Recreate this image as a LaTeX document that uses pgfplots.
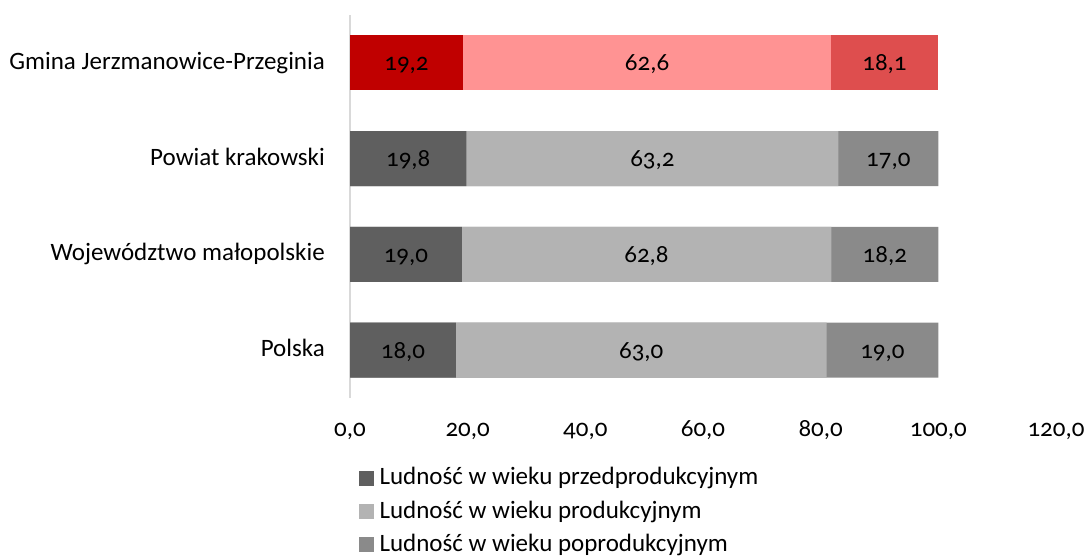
\documentclass[border=0pt]{standalone}
\usepackage{pgfplots}
\pgfplotsset{compat=1.18}
\usepackage{pgfplotstable}
\usepackage{fontspec}
\setmainfont[Numbers=OldStyle]{Carlito}
\definecolor{redA}{HTML}{C00000}
\definecolor{redB}{HTML}{FF9393}
\definecolor{redC}{HTML}{DE4E4E}
\definecolor{grayA}{HTML}{5F5F5F}
\definecolor{grayB}{HTML}{B3B3B3}
\definecolor{grayC}{HTML}{8A8A8A}
\definecolor{axgray}{HTML}{D9D9D9}

\pgfplotstableread{
pos a b c
0 18.0 63.0 19.0
1 19.0 62.8 18.2
2 19.8 63.2 17.0
}\graydata
\pgfplotstableread{
pos a b c
3 19.2 62.6 18.1
}\reddata

\begin{document}
\fontsize{25bp}{30bp}\selectfont
\begin{tikzpicture}
\begin{axis}[
  at={(350bp,-398bp)}, anchor=south west,
  scale only axis, width=706bp, height=383bp,
  xmin=0, xmax=120, ymin=-0.5, ymax=3.5,
  axis x line*=bottom, axis y line*=left,
  axis line style={-},
  x axis line style={draw=none},
  y axis line style={draw=axgray, line width=1.2bp},
  major tick length=0pt,
  xtick={0,20,...,120},
  ytick={0,1,2,3},
  yticklabels={Polska, Województwo małopolskie, Powiat krakowski, Gmina Jerzmanowice-Przeginia},
  yticklabel style={anchor=base east, xshift=-25bp, yshift=-6.5bp},
  xticklabel style={anchor=base, yshift=-38bp},
  tick label style={font=\fontsize{25bp}{30bp}\selectfont, inner sep=0pt},
  /pgf/number format/.cd, fixed, fixed zerofill, precision=1, use comma, 1000 sep={}, assume math mode=true,
  /pgfplots/.cd,
  clip=false,
  legend cell align=left,
  legend style={at={(0.0127,-0.176)}, anchor=north west, draw=none, fill=none,
    font=\fontsize{25bp}{30bp}\selectfont, row sep=8bp, inner sep=0pt},
]
% gray bars: drawn as overlapping bars from 0, longest first
\addplot[xbar, bar width=55bp, bar shift=0pt, fill=grayC, draw=none, forget plot]
  table[x expr=\thisrow{a}+\thisrow{b}+\thisrow{c}, y=pos] {\graydata};
\addplot[xbar, bar width=55bp, bar shift=0pt, fill=grayB, draw=none, forget plot]
  table[x expr=\thisrow{a}+\thisrow{b}, y=pos] {\graydata};
\addplot[xbar, bar width=55bp, bar shift=0pt, fill=grayA, draw=none, forget plot]
  table[x=a, y=pos] {\graydata};
% red bars
\addplot[xbar, bar width=55bp, bar shift=0pt, fill=redC, draw=none, forget plot]
  table[x expr=\thisrow{a}+\thisrow{b}+\thisrow{c}, y=pos] {\reddata};
\addplot[xbar, bar width=55bp, bar shift=0pt, fill=redB, draw=none, forget plot]
  table[x expr=\thisrow{a}+\thisrow{b}, y=pos] {\reddata};
\addplot[xbar, bar width=55bp, bar shift=0pt, fill=redA, draw=none, forget plot]
  table[x=a, y=pos] {\reddata};
% value labels
\pgfplotsset{lbl/.style={draw=none, mark=none, forget plot, nodes near coords, point meta=explicit,
   every node near coord/.style={anchor=base, yshift=-8bp, inner sep=0pt, text=black, font=\fontsize{25bp}{30bp}\selectfont}}}
\addplot[lbl] table[x expr=\thisrow{a}/2, y=pos, meta=a] {\graydata};
\addplot[lbl] table[x expr=\thisrow{a}+\thisrow{b}/2, y=pos, meta=b] {\graydata};
\addplot[lbl] table[x expr=\thisrow{a}+\thisrow{b}+\thisrow{c}/2, y=pos, meta=c] {\graydata};
\addplot[lbl] table[x expr=\thisrow{a}/2, y=pos, meta=a] {\reddata};
\addplot[lbl] table[x expr=\thisrow{a}+\thisrow{b}/2, y=pos, meta=b] {\reddata};
\addplot[lbl] table[x expr=\thisrow{a}+\thisrow{b}+\thisrow{c}/2, y=pos, meta=c] {\reddata};
% legend
\addlegendimage{legend image code/.code={\fill[grayA] (0bp,-7bp) rectangle (14bp,7bp); \path (18bp,0bp);}}
\addlegendentry{Ludność w wieku przedprodukcyjnym}
\addlegendimage{legend image code/.code={\fill[grayB] (0bp,-7bp) rectangle (14bp,7bp); \path (18bp,0bp);}}
\addlegendentry{Ludność w wieku produkcyjnym}
\addlegendimage{legend image code/.code={\fill[grayC] (0bp,-7bp) rectangle (14bp,7bp); \path (18bp,0bp);}}
\addlegendentry{Ludność w wieku poprodukcyjnym}
\end{axis}
\pgfresetboundingbox
\path[use as bounding box] (0,0) rectangle (1084bp,-557bp);
\end{tikzpicture}
\end{document}
